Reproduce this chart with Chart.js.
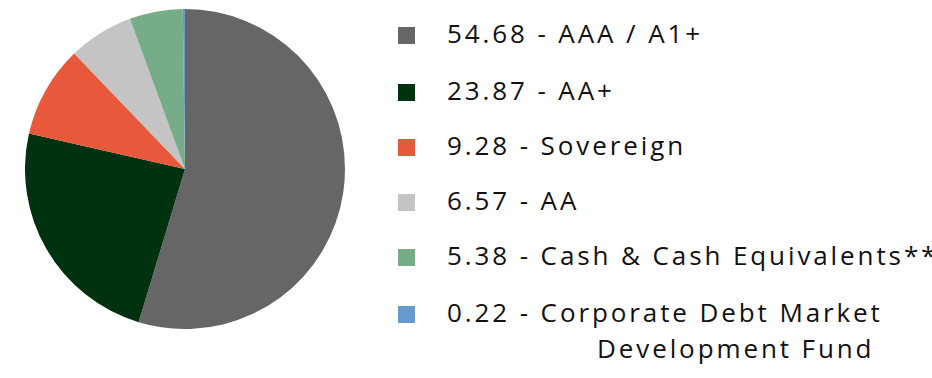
<!DOCTYPE html>
<html>
<head>
<meta charset="utf-8">
<script src="https://cdn.jsdelivr.net/npm/chart.js@4/dist/chart.umd.min.js"></script>
<style>
  html, body { margin: 0; padding: 0; background: #fff; width: 932px; height: 378px; overflow: hidden; }
  #pieWrap { position: absolute; left: 25px; top: 9px; width: 320px; height: 320px; }
  #legend { position: absolute; left: 398px; top: 0; font-family: "Open Sans", sans-serif; font-size: 26px; letter-spacing: 2.9px; color: #111; }
  .item { position: absolute; left: 0; white-space: nowrap; }
  .sw { position: absolute; left: 0; width: 17px; height: 17px; }
  .txt { position: absolute; left: 49px; line-height: 36px; }
</style>
</head>
<body>
<div id="pieWrap"><canvas id="c" width="320" height="320"></canvas></div>
<div id="legend"></div>
<script>
const categories = ["AAA / A1+", "AA+", "Sovereign", "AA", "Cash & Cash Equivalents**", "Corporate Debt Market\nDevelopment Fund"];
const values = [54.68, 23.87, 9.28, 6.57, 5.38, 0.22];
const valueLabels = ["54.68", "23.87", "9.28", "6.57", "5.38", "0.22"];
const colors = ["#666666", "#00320F", "#E8593B", "#C4C4C4", "#76AD88", "#6699CC"];

new Chart(document.getElementById('c'), {
  type: 'pie',
  data: {
    labels: categories,
    datasets: [{ data: values, backgroundColor: colors, borderWidth: 0 }]
  },
  options: {
    responsive: false,
    animation: false,
    layout: { padding: 0 },
    plugins: { legend: { display: false }, tooltip: { enabled: false } }
  }
});

const rowY = [35, 92, 147, 202, 257, 314];
const legend = document.getElementById('legend');
categories.forEach((cat, i) => {
  const item = document.createElement('div');
  item.className = 'item';
  item.style.top = rowY[i] + 'px';
  const sw = document.createElement('div');
  sw.className = 'sw';
  sw.style.background = colors[i];
  sw.style.top = '-8px';
  item.appendChild(sw);
  const lines = cat.split('\n');
  const t = document.createElement('div');
  t.className = 'txt';
  t.style.top = '-20px';
  t.textContent = valueLabels[i] + ' - ' + lines[0];
  item.appendChild(t);
  if (lines.length > 1) {
    const t2 = document.createElement('div');
    t2.className = 'txt';
    t2.style.top = '16px';
    t2.style.left = '199px';
    t2.textContent = lines[1];
    item.appendChild(t2);
  }
  legend.appendChild(item);
});
</script>
</body>
</html>
